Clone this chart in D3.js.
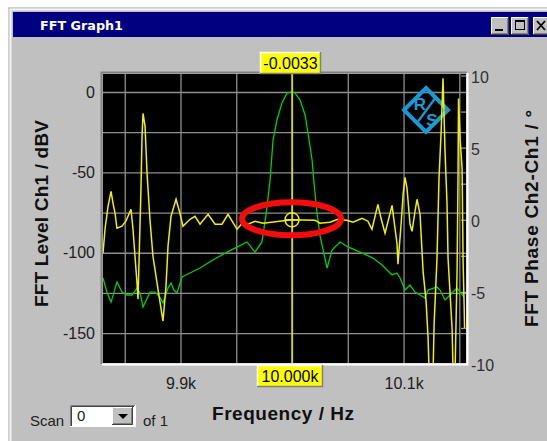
<!DOCTYPE html>
<html><head><meta charset="utf-8">
<script src="https://cdn.jsdelivr.net/npm/d3@7"></script>
<style>
html,body{margin:0;padding:0;background:#fff;}
svg{display:block;}
</style></head>
<body>
<svg id="chart" width="547" height="441"></svg>
<script>
// ---------- data ----------
const levelFreq = [9830.5,9834,9837.7,9840.4,9843,9847.5,9852,9856.5,9861,9863.7,9866.4,9872.6,9877,9881.6,9884.3,9888.8,9891.5,9894,9896.9,9901.3,9908.5,9917.5,9929,9941.7,9950.7,9959.6,9966.8,9973,9974.9,9976.7,9980.3,9983,9986.5,9991,9995.5,10000,10002.7,10007.2,10011.7,10014.3,10018,10019.7,10022.4,10025,10031.4,10035.9,10043,10050.2,10061,10072.6,10080.7,10089.7,10094,10096.9,10101.3,10105.8,10110.3,10119.3,10122,10130,10132.7,10137.2,10141.7,10148,10150.7,10154.3];
const levelDb = [-115.7,-124.4,-130.7,-124.5,-118.2,-124.5,-126.3,-126.3,-122,-125,-133.8,-124.5,-124.5,-127.6,-131.3,-122,-118.8,-123.2,-125,-115.1,-112.6,-109.5,-104.5,-99.6,-96.5,-93.3,-99.6,-93.3,-84.6,-76.5,-54.8,-29.9,-17.4,-6.8,-0.6,0,-0.6,-5,-14.3,-25.5,-42.3,-56.6,-75.3,-89,-109.5,-98.3,-93.3,-96.4,-99.6,-103.3,-107.6,-113.8,-112.6,-115.7,-123.2,-120.1,-124.5,-128.2,-123.2,-121.3,-123.2,-129.4,-126.3,-122,-124.5,-127.6];

const phaseFreq = [9830.5,9832.3,9835,9837.7,9839.5,9841.3,9843,9847.5,9851,9855.6,9857.4,9859.2,9861,9861.9,9864.6,9865.5,9866.4,9868.2,9870,9872.6,9875.3,9879.8,9884.3,9887,9888.8,9891.5,9896,9899.5,9902.2,9908.5,9913,9917.5,9924.7,9931,9937.2,9942.6,9950.7,9955.2,9960.5,9966.8,9974,10000,10020.6,10025,10034,10041,10049,10054.7,10062.8,10068,10071.7,10077,10079.8,10083.4,10089.7,10091.5,10094.2,10095,10097.8,10099.6,10101.3,10103.1,10105.8,10107.6,10110.3,10112.1,10114.8,10117.5,10120.2,10122,10122.9,10126.5,10127.4,10130,10131.8,10133.6,10135.4,10137.2,10139,10139.9,10143.5,10144.4,10146.2,10148,10148.9,10149.3,10150.7,10152.5,10153.4,10154.3,10154.7];
const phaseDeg = [-2.32,-0.66,0.93,1.97,1.14,0.45,-0.59,-0.45,-0.1,0.73,-0.66,-2.53,-4.39,-5.5,2.32,5.78,7.37,6.47,3.22,0.03,-2.53,-4.81,-7.02,-4.6,-1.83,0.24,1.42,0.45,-0.45,0.03,0.24,-0.31,0.38,-0.31,-0.31,0.38,-0.66,-0.24,-0.31,-0.1,-0.24,-0.0033,-0.03,-0.24,-0.17,0.03,-0.03,-0.17,0.1,-0.1,-0.66,1.07,0.1,-0.93,1.0,-0.1,-1.7,-3.08,-0.31,1.76,2.94,2.18,-0.31,-0.8,0.59,1.42,0.38,-3.56,-5.64,-8.2,-10.5,-10.5,-7.23,-2.66,2.87,5.92,9.8,4.74,1.07,-2.66,-7.5,-10.5,-10.5,-3.56,3.36,8.4,5.64,3.56,-2.87,-5.85,-7.5];

const leftTicks = [0,-50,-100,-150];
const rightTicks = [10,5,0,-5,-10];
const rightMinorTicks = [10,7.5,5,2.5,0,-2.5,-5,-7.5,-10];
const xTickValues = [9900,10100];
const xTickLabels = ["9.9k","10.1k"];
const gridFreq = [9850,9900,9950,10000,10050,10100,10150];
const gridDb = [0,-25,-50,-75,-100,-125,-150];
const cursorFreq = 10000;
const cursorPhase = -0.0033;
const cursorPhaseLabel = "-0.0033";
const cursorFreqLabel = "10.000k";

// ---------- layout ----------
const svg = d3.select("#chart");
const P = {l:103, r:466, t:74, b:363};
const x = d3.scaleLinear().domain([9830.5,10156]).range([P.l,P.r]);
const yL = d3.scaleLinear().domain([11.2,-168.6]).range([P.t,P.b]);
const yR = d3.scaleLinear().domain([10,-10]).range([75.5,364]);
const FONT = "'Liberation Sans', Arial, sans-serif";

// window frame
svg.append("rect").attr("x",0).attr("y",0).attr("width",547).attr("height",441).attr("fill","#ffffff");
svg.append("rect").attr("x",8.5).attr("y",7.5).attr("width",560).attr("height",460).attr("fill","#c0c0c0").attr("stroke","#d0d0d0");
svg.append("line").attr("x1",10.5).attr("y1",9).attr("x2",10.5).attr("y2",441).attr("stroke","#f4f4f4").attr("stroke-width",2);
svg.append("line").attr("x1",10).attr("y1",9.5).attr("x2",547).attr("y2",9.5).attr("stroke","#f4f4f4").attr("stroke-width",2);
svg.append("rect").attr("x",13).attr("y",12).attr("width",540).attr("height",25).attr("fill","#000080");
svg.append("text").attr("x",40).attr("y",30).attr("fill","#fff").attr("font-family","'DejaVu Sans', Tahoma, sans-serif")
  .attr("font-weight","bold").attr("font-size",13).attr("textLength",83).attr("lengthAdjust","spacingAndGlyphs").text("FFT Graph1");

// title buttons
function raised(g,x0,y0,w,h){
  g.append("rect").attr("x",x0).attr("y",y0).attr("width",w).attr("height",h).attr("fill","#c0c0c0");
  g.append("path").attr("d",`M${x0+0.5},${y0+h}V${y0+0.5}H${x0+w}`).attr("stroke","#fff").attr("fill","none");
  g.append("path").attr("d",`M${x0},${y0+h-0.5}H${x0+w-0.5}V${y0}`).attr("stroke","#404040").attr("fill","none");
  g.append("path").attr("d",`M${x0+1},${y0+h-1.5}H${x0+w-1.5}V${y0+1}`).attr("stroke","#808080").attr("fill","none");
}
const tb = svg.append("g");
raised(tb,491,17,18,18);
tb.append("rect").attr("x",495).attr("y",29).attr("width",8).attr("height",2).attr("fill","#000");
raised(tb,511,17,18,18);
tb.append("rect").attr("x",515.5).attr("y",20.5).attr("width",9).attr("height",9).attr("fill","none").attr("stroke","#000");
tb.append("rect").attr("x",515).attr("y",20).attr("width",10).attr("height",2).attr("fill","#000");
raised(tb,533,17,18,18);
tb.append("path").attr("d","M537,21L545,30M545,21L537,30").attr("stroke","#000").attr("stroke-width",1.8);

// plot background + sunken border
svg.append("rect").attr("x",P.l).attr("y",P.t).attr("width",P.r-P.l).attr("height",P.b-P.t).attr("fill","#000");
svg.append("path").attr("d",`M${P.l-1.5},${P.b+1}V${P.t-1.5}H${P.r+1}`).attr("stroke","#808080").attr("fill","none").attr("stroke-width",2);
svg.append("path").attr("d",`M${P.l-1},${P.b+1.5}H${P.r+1.5}V${P.t-1}`).attr("stroke","#ffffff").attr("fill","none").attr("stroke-width",2);

svg.append("clipPath").attr("id","clip").append("rect").attr("x",P.l).attr("y",P.t).attr("width",P.r-P.l).attr("height",P.b-P.t);
const plot = svg.append("g").attr("clip-path","url(#clip)");

// grid
const gx = plot.append("g").attr("transform",`translate(0,${P.b})`)
  .call(d3.axisBottom(x).tickValues(gridFreq).tickSize(-(P.b-P.t)).tickFormat(""));
gx.select(".domain").remove();
gx.selectAll("line").attr("stroke","#8e8e8e").attr("stroke-width",1.3);
const gy = plot.append("g").attr("transform",`translate(${P.l},0)`)
  .call(d3.axisLeft(yL).tickValues(gridDb).tickSize(-(P.r-P.l)).tickFormat(""));
gy.select(".domain").remove();
gy.selectAll("line").attr("stroke","#8e8e8e").attr("stroke-width",1.3);

// right minor ticks inside
const rt = plot.append("g").attr("transform",`translate(${P.r},0)`)
  .call(d3.axisRight(yR).tickValues(rightMinorTicks).tickSize(-5).tickFormat(""));
rt.select(".domain").remove();
rt.selectAll("line").attr("stroke","#9a9a9a").attr("stroke-width",1.2);

// R&S logo
const logo = plot.append("g").attr("transform","translate(426,110)");
logo.append("path").attr("d","M0,-22L22,0L0,22L-22,0Z").attr("fill","none").attr("stroke","#1a9ad4").attr("stroke-width",4);
logo.append("path").attr("d","M10,-13L-9,13").attr("stroke","#1a9ad4").attr("stroke-width",2.2);
logo.append("text").attr("x",-6).attr("y",0).attr("text-anchor","middle").attr("fill","#1a9ad4")
  .attr("font-family",FONT).attr("font-weight","bold").attr("font-size",17).text("R");
logo.append("text").attr("x",6).attr("y",16).attr("text-anchor","middle").attr("fill","#1a9ad4")
  .attr("font-family",FONT).attr("font-weight","bold").attr("font-size",17).text("S");

// series
const levelData = levelFreq.map((f,i)=>[f,levelDb[i]]);
const phaseData = phaseFreq.map((f,i)=>[f,phaseDeg[i]]);
plot.append("path").datum(levelData)
  .attr("d",d3.line().x(d=>x(d[0])).y(d=>yL(d[1])))
  .attr("fill","none").attr("stroke","#00d000").attr("stroke-width",1.3);
plot.append("path").datum(phaseData)
  .attr("d",d3.line().x(d=>x(d[0])).y(d=>yR(d[1])))
  .attr("fill","none").attr("stroke","#f0f000").attr("stroke-width",1.5);

// cursor
const cx = x(cursorFreq), cy = yR(cursorPhase);
plot.append("line").attr("x1",cx).attr("x2",cx).attr("y1",P.t).attr("y2",P.b).attr("stroke","#f0f000").attr("stroke-width",1.4);
plot.append("circle").attr("cx",cx).attr("cy",cy).attr("r",7).attr("fill","none").attr("stroke","#f0f000").attr("stroke-width",1.4);
plot.append("line").attr("x1",cx-7).attr("x2",cx+7).attr("y1",cy).attr("y2",cy).attr("stroke","#f0f000").attr("stroke-width",1.4);

// red annotation ellipse
svg.append("ellipse").attr("cx",cx-0.5).attr("cy",yR(0)-1).attr("rx",49.5).attr("ry",16.5)
  .attr("fill","none").attr("stroke","#f20c0c").attr("stroke-width",6);

// axes labels
const la = svg.append("g").attr("transform",`translate(${P.l},0)`)
  .call(d3.axisLeft(yL).tickValues(leftTicks).tickSize(0).tickPadding(8).tickFormat(d=>d));
la.select(".domain").remove();
la.selectAll("text").attr("font-family",FONT).attr("font-size",16).attr("fill","#202020");

const ra = svg.append("g").attr("transform",`translate(${P.r},0)`)
  .call(d3.axisRight(yR).tickValues(rightTicks).tickSize(0).tickPadding(5).tickFormat(d=>d));
ra.select(".domain").remove();
ra.selectAll("text").attr("font-family",FONT).attr("font-size",16).attr("fill","#303030").attr("dy","0.42em");

const ba = svg.append("g").attr("transform",`translate(0,${P.b})`)
  .call(d3.axisBottom(x).tickValues(xTickValues).tickSize(0).tickPadding(15).tickFormat((d,i)=>xTickLabels[i]));
ba.select(".domain").remove();
ba.selectAll("text").attr("font-family",FONT).attr("font-size",16).attr("fill","#202020");

// cursor label boxes
function labelBox(x0,y0,w,h,txt){
  const g = svg.append("g");
  g.append("rect").attr("x",x0).attr("y",y0).attr("width",w).attr("height",h).attr("fill","#ffff00");
  g.append("path").attr("d",`M${x0+0.5},${y0+h}V${y0+0.5}H${x0+w}`).attr("stroke","#fff").attr("fill","none").attr("stroke-width",1.5);
  g.append("path").attr("d",`M${x0},${y0+h-0.5}H${x0+w-0.5}V${y0}`).attr("stroke","#808080").attr("fill","none").attr("stroke-width",1.5);
  g.append("text").attr("x",x0+w/2).attr("y",y0+h-5).attr("text-anchor","middle").attr("font-family",FONT)
    .attr("font-size",16).attr("fill","#000").text(txt);
}
labelBox(260,52,61,22,cursorPhaseLabel);
labelBox(257,365,66,22,cursorFreqLabel);

// axis titles
svg.append("text").attr("transform","translate(48,213.5) rotate(-90)").attr("text-anchor","middle")
  .attr("font-family",FONT).attr("font-weight","bold").attr("font-size",19).attr("fill","#101010")
  .attr("textLength",187).attr("lengthAdjust","spacing").text("FFT Level Ch1 / dBV");
svg.append("text").attr("transform","translate(538,218.5) rotate(-90)").attr("text-anchor","middle")
  .attr("font-family",FONT).attr("font-weight","bold").attr("font-size",19).attr("fill","#101010")
  .attr("textLength",217).attr("lengthAdjust","spacing").text("FFT Phase Ch2-Ch1 / °");
svg.append("text").attr("x",212).attr("y",420).attr("font-family",FONT).attr("font-weight","bold")
  .attr("font-size",19).attr("fill","#101010").attr("textLength",142).attr("lengthAdjust","spacing").text("Frequency / Hz");

// scan control
svg.append("text").attr("x",30).attr("y",426).attr("font-family",FONT).attr("font-size",15).attr("fill","#202020").text("Scan");
svg.append("rect").attr("x",70).attr("y",405).attr("width",65).attr("height",22).attr("fill","#fff");
svg.append("path").attr("d","M70.5,427V405.5H135").attr("stroke","#808080").attr("fill","none");
svg.append("path").attr("d","M71.5,426V406.5H134").attr("stroke","#404040").attr("fill","none");
svg.append("path").attr("d","M70,426.5H135.5V405").attr("stroke","#ffffff").attr("fill","none");
svg.append("text").attr("x",77).attr("y",421).attr("font-family",FONT).attr("font-size",15).attr("fill","#202020").text("0");
const sb = svg.append("g");
raised(sb,112,407,21,18);
sb.append("path").attr("d","M118,414H128L123,419Z").attr("fill","#000");
svg.append("text").attr("x",143).attr("y",426).attr("font-family",FONT).attr("font-size",15).attr("fill","#202020").text("of 1");
</script>
</body></html>
